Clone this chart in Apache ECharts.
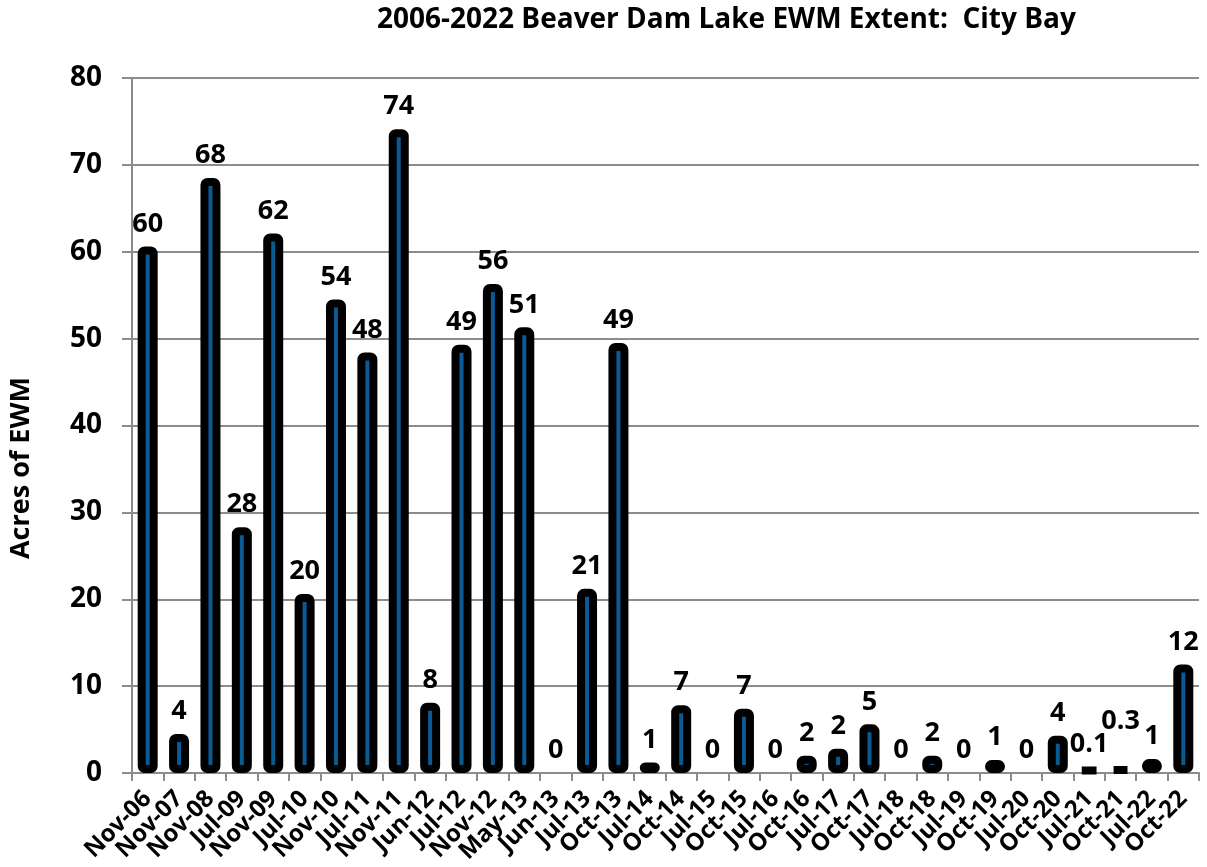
<!DOCTYPE html>
<html>
<head>
<meta charset="utf-8">
<script src="https://cdn.jsdelivr.net/npm/echarts@6/dist/echarts.min.js"></script>
<style>
    html, body { margin: 0; padding: 0; background: #fff; }
    #chart { width: 1207px; height: 867px; }
</style>
</head>
<body>
<div id="chart"></div>
<script>
// survey dates
const categories = ["Nov-06", "Nov-07", "Nov-08", "Jul-09", "Nov-09", "Jul-10", "Nov-10", "Jul-11", "Nov-11",
    "Jun-12", "Jul-12", "Nov-12", "May-13", "Jun-13", "Jul-13", "Oct-13", "Jul-14", "Oct-14", "Jul-15", "Oct-15",
    "Jul-16", "Oct-16", "Jul-17", "Oct-17", "Jul-18", "Oct-18", "Jul-19", "Oct-19", "Jul-20", "Oct-20",
    "Jul-21", "Oct-21", "Jul-22", "Oct-22"];
// acres of EWM (bar heights)
const acres = [60.6, 4.5, 68.5, 28.3, 62.1, 20.6, 54.5, 48.4, 74.1, 8.1, 49.3, 56.3, 51.3, 0, 21.2, 49.5,
    1.2, 7.8, 0, 7.4, 0, 2, 2.8, 5.6, 0, 2, 0, 1.5, 0, 4.3, 0.6, 0.7, 1.6, 12.5];
// printed data labels
const valueLabels = ["60", "4", "68", "28", "62", "20", "54", "48", "74", "8", "49", "56", "51", "0", "21", "49",
    "1", "7", "0", "7", "0", "2", "2", "5", "0", "2", "0", "1", "0", "4", "0.1", "0.3", "1", "12"];
const yTicks = [0, 10, 20, 30, 40, 50, 60, 70, 80];

const font = "'Open Sans', 'Noto Sans', sans-serif";
const chart = echarts.init(document.getElementById("chart"));

const seriesData = acres.map((v, i) => {
    let item = { value: v, label: { formatter: valueLabels[i] } };
    if (v === 0) item.itemStyle = { borderWidth: 0, color: "transparent" };
    if (categories[i] === "Oct-21") item.label.offset = [0, -22]; // moved up in original
    return item;
});

chart.setOption({
    animation: false,
    title: {
        text: "2006-2022 Beaver Dam Lake EWM Extent:  City Bay",
        left: 372,
        top: 1,
        textStyle: { fontFamily: font, fontWeight: "bold", fontSize: 28, color: "#000" },
    },
    grid: { left: 132, right: 8, top: 78, bottom: 94, containLabel: false },
    graphic: [
        {
            // y axis title
            type: "text",
            x: 21,
            y: 468,
            rotation: Math.PI / 2,
            style: {
                text: "Acres of EWM",
                fontFamily: font,
                fontWeight: "bold",
                fontSize: 27,
                fill: "#000",
                textAlign: "center",
                textVerticalAlign: "middle",
            },
        },
    ],
    xAxis: {
        type: "category",
        data: categories,
        axisLine: { lineStyle: { color: "#8c8c8c", width: 2 } },
        axisTick: { show: true, length: 8, alignWithLabel: false, lineStyle: { color: "#8c8c8c", width: 2 } },
        axisLabel: {
            interval: 0,
            rotate: 45,
            margin: 22,
            color: "#000",
            fontFamily: font,
            fontWeight: "bold",
            fontSize: 24,
        },
    },
    yAxis: {
        type: "value",
        min: yTicks[0],
        max: yTicks[yTicks.length - 1],
        interval: 10,
        axisLine: { show: true, lineStyle: { color: "#8c8c8c", width: 2 } },
        axisTick: { show: true, inside: false, length: 10, lineStyle: { color: "#8c8c8c", width: 2 } },
        splitLine: { lineStyle: { color: "#8c8c8c", width: 2 } },
        axisLabel: { color: "#000", fontFamily: font, fontWeight: "bold", fontSize: 28, margin: 30 },
    },
    series: [
        {
            type: "bar",
            data: seriesData,
            barWidth: 20,
            itemStyle: {
                color: "#0b5a96",
                borderColor: "#000",
                borderWidth: 8,
                borderRadius: 3,
            },
            label: {
                show: true,
                position: "top",
                distance: 9,
                color: "#000",
                fontFamily: font,
                fontWeight: "bold",
                fontSize: 27,
            },
        },
    ],
});
</script>
</body>
</html>
